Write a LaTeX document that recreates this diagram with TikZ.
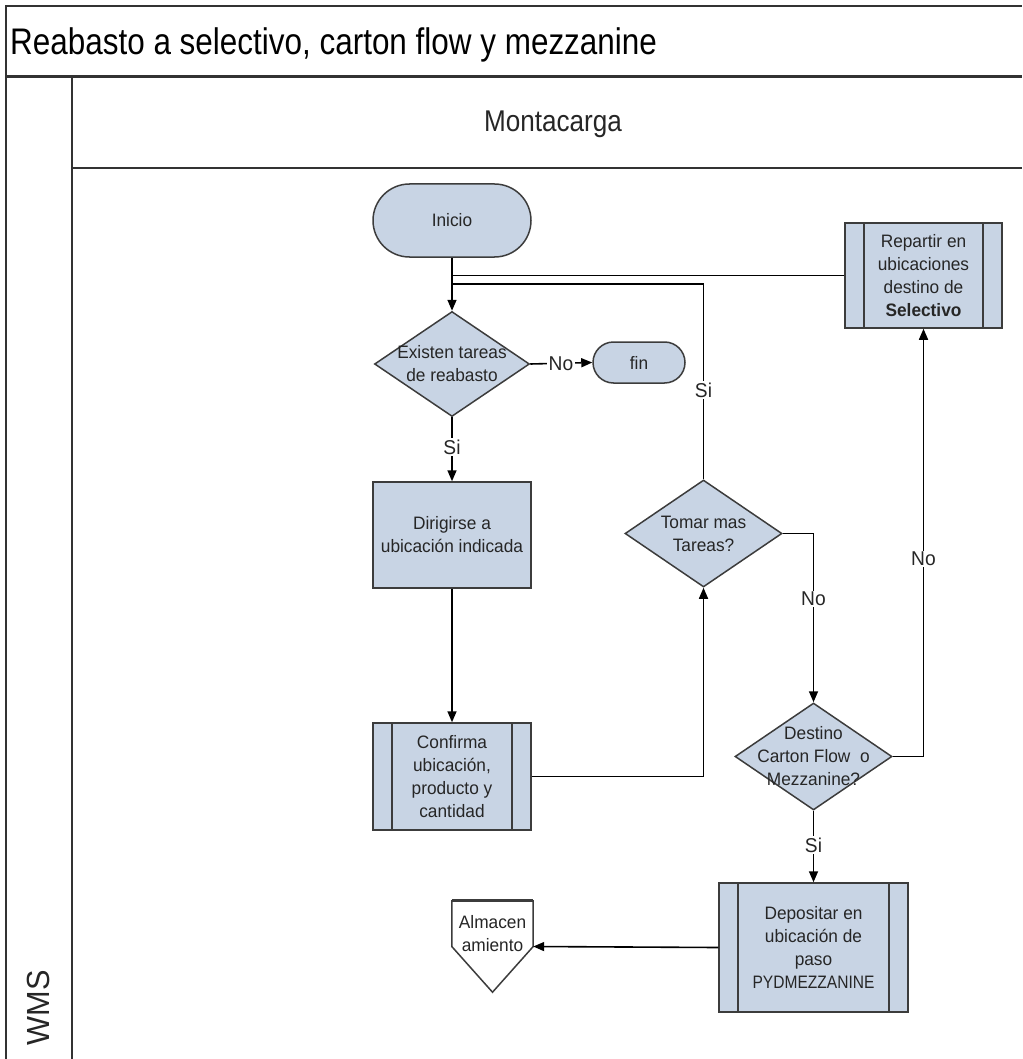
\documentclass[tikz,border=0pt]{standalone}
\usepackage{fontspec}
\setmainfont{Liberation Sans}[FakeStretch=0.96]
\newfontfamily\headfont{Liberation Sans}[FakeStretch=0.85]
\newfontfamily\laneheadfont{Liberation Sans}[FakeStretch=0.87]
\usetikzlibrary{shapes.geometric,shapes.misc,arrows.meta}

\definecolor{boxfill}{RGB}{200,212,228}
\definecolor{boxline}{RGB}{60,60,60}
\definecolor{txtcol}{RGB}{38,38,38}
\definecolor{frameline}{RGB}{50,50,50}

\tikzset{
  shapebase/.style={draw=boxline, line width=1.5pt, fill=boxfill, text=txtcol,
    font=\fontsize{18}{23}\selectfont, align=center, inner sep=0pt},
  term/.style={shapebase, rounded rectangle},
  procbox/.style={shapebase, rectangle},
  predef/.style={shapebase, rectangle,
    path picture={
      \draw[boxline, line width=1.5pt]
        ([xshift=19pt]path picture bounding box.north west) -- ([xshift=19pt]path picture bounding box.south west)
        ([xshift=-19pt]path picture bounding box.north east) -- ([xshift=-19pt]path picture bounding box.south east);
    }},
  decision/.style={shapebase, diamond},
  dtext/.style={align=center, text=txtcol, font=\fontsize{18}{23}\selectfont, inner sep=0pt},
  offpage/.style={draw=none, minimum width=81pt, minimum height=91pt, inner sep=0pt},
  flow/.style={line width=1.6pt, draw=black},
  arr/.style={flow, -{Triangle[length=11pt,width=9pt]}},
  lbl/.style={fill=white, inner sep=1.5pt, font=\fontsize{20}{24}\selectfont, text=txtcol},
  lane/.style={line width=2pt, draw=frameline},
}

\begin{document}
\begin{tikzpicture}[x=1pt, y=-1pt]
\useasboundingbox (0,0) rectangle (1022,1059);

% pool and lane frame
\draw[lane] (6,1059) -- (6,6) -- (1022,6);
\draw[lane, line width=3pt] (6,77) -- (1022,77);
\draw[lane] (72,77) -- (72,1059);
\draw[lane] (72,168) -- (1022,168);

\node[anchor=base west, inner sep=0pt, font=\headfont\fontsize{37}{42}\selectfont] (title) at (10,55)
  {Reabasto a selectivo, carton flow y mezzanine};
\node[anchor=base, font=\laneheadfont\fontsize{30}{34}\selectfont, text=txtcol] (lanehead) at (553,132) {Montacarga};
\node[rotate=90, font=\fontsize{32}{36}\selectfont, text=txtcol] (lanename) at (38,1008) {WMS};

% flow shapes
\node[term, minimum width=158pt, minimum height=73pt] (ini) at (452,220.5) {Inicio};
\node[decision, minimum width=155pt, minimum height=105pt,
      label={[dtext]center:Existen tareas\\de reabasto}] (d1) at (452,364) {};
\node[term, minimum width=92pt, minimum height=41pt] (fin) at (639,362.5) {fin};
\node[procbox, minimum width=158pt, minimum height=106pt] (dir) at (452,535)
  {Dirigirse a\\ubicación indicada};
\node[predef, minimum width=158pt, minimum height=107pt] (conf) at (452,776.5)
  {Confirma\\ubicación,\\producto y\\cantidad};
\node[decision, minimum width=157pt, minimum height=107pt,
      label={[dtext]center:Tomar mas\\Tareas?}] (tomar) at (703.5,533.5) {};
\node[decision, minimum width=157pt, minimum height=107pt,
      label={[dtext]center:Destino\\Carton Flow\ \ o\\Mezzanine?}] (dest) at (813.5,756.5) {};
\node[predef, minimum width=157pt, minimum height=105pt] (rep) at (923.5,275.5)
  {Repartir en\\ubicaciones\\destino de\\\textbf{Selectivo}};
\node[predef, minimum width=189pt, minimum height=129pt] (dep) at (813.5,947.5)
  {Depositar en\\ubicación de\\paso\\\scalebox{0.9}[1]{PYDMEZZANINE}};

% off-page storage connector
\node[offpage] (alm) at (492.5,946.5) {};
\draw[draw=boxline, line width=1.5pt, fill=white]
  (alm.north west) -- (alm.north east) -- (alm.east) -- (alm.south) -- (alm.west) -- cycle;
\draw[boxline, line width=3pt] (alm.north west) -- (alm.north east);
\node[dtext] (almtxt) at (492.5,933.5) {Almacen\\amiento};

% connectors
\coordinate (loopturn) at (703.5,284);
\draw[arr] (ini.south) -- (d1.north);
\draw[flow] (rep.west) -- (rep.west -| d1.north);
\draw[flow] (tomar.north) -- (loopturn) -- (loopturn -| d1.north);
\node[lbl] (siloop) at (703.5,390) {Si};
\draw[arr] (d1.east) -- (fin.west);
\node[lbl] (nofin) at (561,364) {No};
\draw[arr] (d1.south) -- (dir.north);
\node[lbl] (sidir) at (452,447) {Si};
\draw[arr] (dir.south) -- (conf.north);
\draw[arr] (conf.east) -- (conf.east -| tomar.south) -- (tomar.south);
\draw[arr] (tomar.east) -- (tomar.east -| dest.north) -- (dest.north);
\node[lbl] (notomar) at (813.5,599) {No};
\draw[arr] (dest.east) -- (dest.east -| rep.south) -- (rep.south);
\node[lbl] (norep) at (923.5,559) {No};
\draw[arr] (dest.south) -- (dep.north);
\node[lbl] (sidep) at (813.5,845) {Si};
\draw[arr] (dep.west) -- (alm.east);
\end{tikzpicture}
\end{document}
